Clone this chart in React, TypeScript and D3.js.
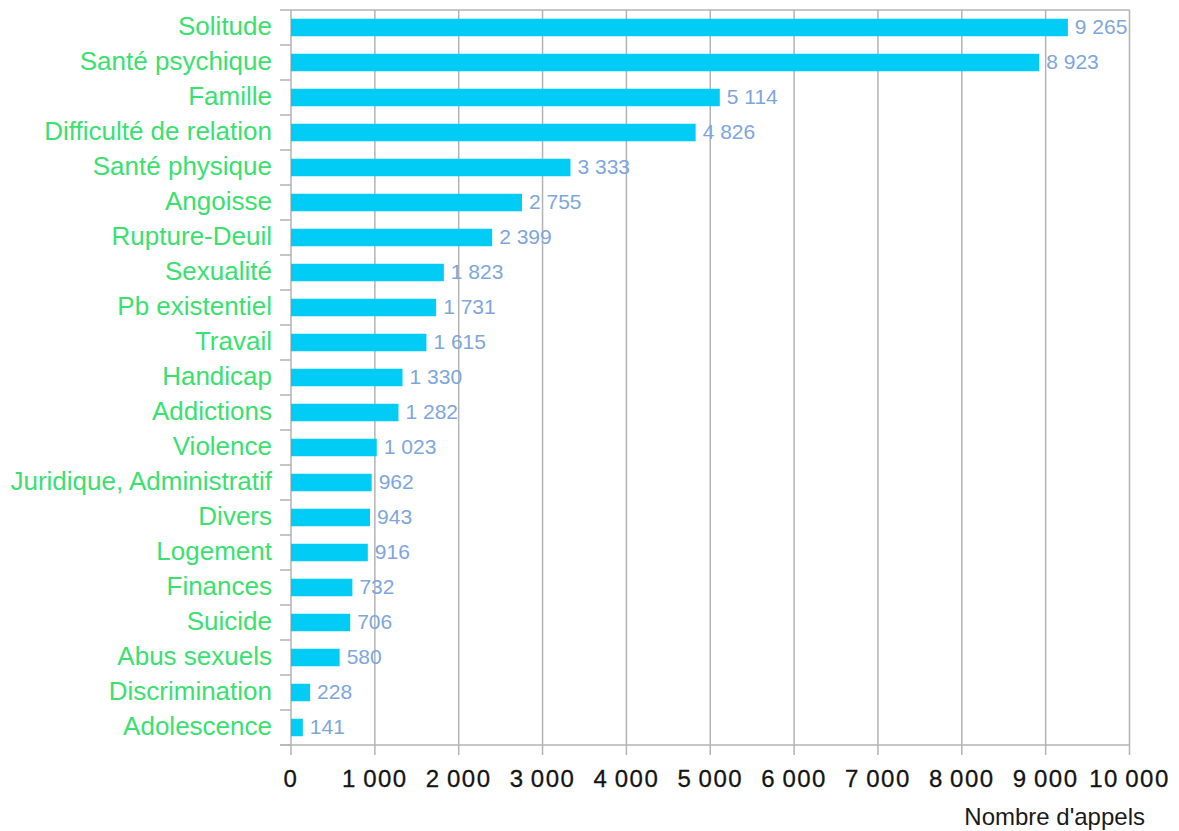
import React from "react";
import * as d3 from "d3";

const categories = [
  "Solitude", "Santé psychique", "Famille", "Difficulté de relation", "Santé physique",
  "Angoisse", "Rupture-Deuil", "Sexualité", "Pb existentiel", "Travail", "Handicap",
  "Addictions", "Violence", "Juridique, Administratif", "Divers", "Logement",
  "Finances", "Suicide", "Abus sexuels", "Discrimination", "Adolescence",
];
const values = [
  9265, 8923, 5114, 4826, 3333, 2755, 2399, 1823, 1731, 1615, 1330,
  1282, 1023, 962, 943, 916, 732, 706, 580, 228, 141,
];
const xTicks = [0, 1000, 2000, 3000, 4000, 5000, 6000, 7000, 8000, 9000, 10000];
const axisTitle = "Nombre d'appels";

const W = 1179;
const H = 831;
const left = 291;
const right = 1129.5;
const top = 10;
const bottom = 745;

const fmt = (v: number) => d3.format(",")(v).replace(/,/g, " ");
const fmtAxis = (v: number) => d3.format(",")(v).replace(/,/g, "\u2009");

export default function App() {
  const x = d3.scaleLinear().domain([0, 10000]).range([left, right]);
  const y = d3
    .scaleBand<string>()
    .domain(categories)
    .range([top, bottom])
    .paddingInner(0.5)
    .paddingOuter(0.25);
  const step = y.step();
  const boundaries = d3.range(categories.length + 1).map((i) => top + i * step);
  const grid = "#b3b3b3";
  const font = "'Liberation Sans', Arial, sans-serif";

  return (
    <svg
      width={W}
      height={H}
      style={{ position: "absolute", left: 0, top: 0, background: "#fff" }}
      fontFamily={font}
    >
      {xTicks.map((t) => (
        <line key={"g" + t} x1={x(t)} x2={x(t)} y1={top} y2={bottom} stroke={grid} strokeWidth={1.5} />
      ))}
      <line x1={left} x2={right} y1={top} y2={top} stroke={grid} strokeWidth={1.5} />
      <line x1={280} x2={right} y1={bottom} y2={bottom} stroke={grid} strokeWidth={1.5} />
      {xTicks.map((t) => (
        <line key={"xt" + t} x1={x(t)} x2={x(t)} y1={bottom} y2={bottom + 10} stroke={grid} strokeWidth={1.5} />
      ))}
      {boundaries.map((b, i) => (
        <line key={"yt" + i} x1={280} x2={left} y1={b} y2={b} stroke={grid} strokeWidth={1.5} />
      ))}
      {categories.map((c, i) => (
        <rect
          key={"b" + c}
          x={x(0)}
          y={y(c)}
          width={x(values[i]) - x(0)}
          height={y.bandwidth()}
          fill="#00ccf5"
        />
      ))}
      {categories.map((c, i) => (
        <text
          key={"v" + c}
          x={x(values[i]) + 7}
          y={(y(c) as number) + y.bandwidth() / 2 - 1}
          dominantBaseline="central"
          fontSize={21}
          fill="#7ea6dc"
        >
          {fmt(values[i])}
        </text>
      ))}
      {categories.map((c) => (
        <text
          key={"c" + c}
          x={272}
          y={(y(c) as number) + y.bandwidth() / 2 - 1.5}
          dominantBaseline="central"
          textAnchor="end"
          fontSize={26}
          fill="#3ae070"
        >
          {c}
        </text>
      ))}
      {xTicks.map((t) => (
        <text
          key={"xl" + t}
          x={x(t)}
          y={787}
          textAnchor="middle"
          fontSize={24}
          letterSpacing={1.5}
          fill="#141414"
          stroke="#141414"
          strokeWidth={0.3}
        >
          {fmtAxis(t)}
        </text>
      ))}
      <text x={1145} y={825} textAnchor="end" fontSize={24} fill="#1a1a1a">
        {axisTitle}
      </text>
    </svg>
  );
}
